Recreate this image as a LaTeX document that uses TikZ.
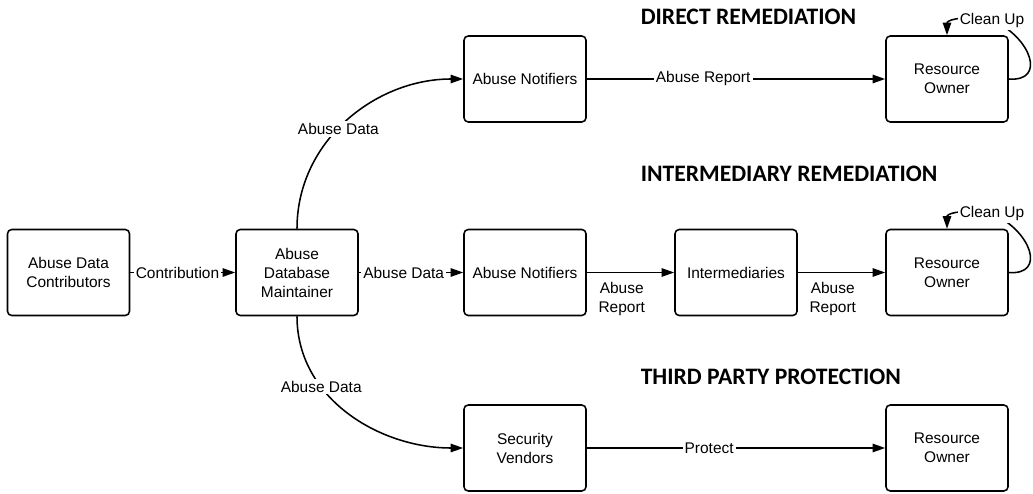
\documentclass[tikz,border=0pt]{standalone}
\usepackage{fontspec}
\setmainfont{Liberation Sans}
\newfontfamily\headfont{Carlito}
\usetikzlibrary{arrows.meta}

\begin{document}
\begin{tikzpicture}[line width=1.1pt,
	>={Triangle[length=9pt,width=6pt]},
	box/.style={draw, rounded corners=3pt, minimum width=3.05cm, minimum height=2.15cm, align=center, font=\fontsize{11}{13.5}\selectfont},
	lbl/.style={fill=white, inner sep=1.5pt, align=center, font=\fontsize{11}{13.5}\selectfont},
	head/.style={anchor=base west, inner sep=0pt, font=\headfont\bfseries\fontsize{16.8}{20}\selectfont}]
	\useasboundingbox (0, 0) rectangle (25.825, 12.35);

	% Заголовки
	\node[head] (hdirect) at (16.0, 11.725) {DIRECT REMEDIATION};
	\node[head] (hinter) at (16.0, 7.8) {INTERMEDIARY REMEDIATION};
	\node[head] (hthird) at (16.0, 2.725) {THIRD PARTY PROTECTION};

	% Блоки
	\node[box] (contrib) at (1.7125, 5.5375) {Abuse Data\\Contributors};
	\node[box] (maint) at (7.425, 5.5375) {Abuse\\Database\\Maintainer};
	\node[box] (notif1) at (13.125, 10.375) {Abuse Notifiers};
	\node[box] (notif2) at (13.125, 5.5375) {Abuse Notifiers};
	\node[box] (inter) at (18.4, 5.5375) {Intermediaries};
	\node[box] (vendors) at (13.125, 1.15) {Security\\Vendors};
	\node[box] (owner1) at (23.675, 10.375) {Resource\\Owner};
	\node[box] (owner2) at (23.675, 5.5375) {Resource\\Owner};
	\node[box] (owner3) at (23.675, 1.15) {Resource\\Owner};

	% Связи
	\draw[->] (contrib) -- node[lbl, pos=0.45] {Contribution} (maint);
	\draw[->] (maint) -- node[lbl, pos=0.43] {Abuse Data} (notif2);
	\draw[->] (maint.north) to[out=90, in=180] node[lbl, pos=0.45] {Abuse Data} (notif1.west);
	\draw[->] (maint.south) to[out=-90, in=180] node[lbl, pos=0.33] {Abuse Data} (vendors.west);

	\draw[->] (notif1) -- node[lbl, pos=0.39] {Abuse Report} (owner1);
	\draw[->] (notif2) -- node[lbl, below=5pt, pos=0.4] {Abuse\\Report} (inter);
	\draw[->] (inter) -- node[lbl, below=5pt, pos=0.4] {Abuse\\Report} (owner2);
	\draw[->] (vendors) -- node[lbl, pos=0.41] {Protect} (owner3);

	% Петли
	\foreach \o in {owner1, owner2}
		\draw[->] (\o.east) .. controls ([shift={(0.95,-0.075)}]\o.east) and ([shift={(2.1,1.05)}]\o.center) .. ([shift={(1.125,1.47)}]\o.center) node[lbl] {Clean Up} .. controls ([shift={(0.2,1.6)}]\o.center) and ([shift={(0,0.35)}]\o.north) .. (\o.north);
\end{tikzpicture}
\end{document}
